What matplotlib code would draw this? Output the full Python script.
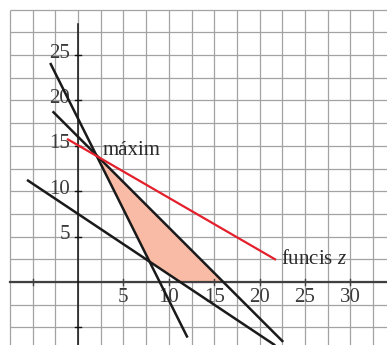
import numpy as np
import matplotlib.pyplot as plt

# constraint lines, drawn between these x limits
steep_x = [-3.0, 12.0]          # 2x + y = 18
diag_x = [-2.7, 22.5]           # x + y = 16
low_x = [-5.5, 21.6]            # 2x + 3y = 22.5

# objective function line (red) and optimum
z_x = [-1.1, 21.7]
z_y = [15.7, 2.5]
opt = (2, 14)

# feasible region vertices
region_x = [2, 16, 11.25, 7.875]
region_y = [14, 0, 0, 2.25]

tick_vals = [5, 10, 15, 20, 25, 30]
grid_x = np.arange(-7.5, 35, 2.5)
grid_y = np.arange(-5, 31, 2.5)

plt.rcParams['font.family'] = ['Liberation Serif', 'DejaVu Serif']
plt.rcParams['mathtext.fontset'] = 'custom'
plt.rcParams['mathtext.it'] = 'Liberation Serif:italic'
plt.rcParams['mathtext.rm'] = 'Liberation Serif'

fig = plt.figure(figsize=(3.87, 3.45), dpi=100)
ax = fig.add_axes([0, 0, 1, 1])
ax.set_xlim(-8.59, 34.03)
ax.set_ylim(-6.94, 31.06)
ax.axis('off')

# squared paper
ax.vlines(grid_x, -6.94, 30, color='#a3a3a3', lw=0.9, zorder=1)
ax.hlines(grid_y, -7.5, 34.03, color='#a3a3a3', lw=0.9, zorder=1)

# axes
ax.plot([-7.5, 34.03], [0, 0], color='#404040', lw=1.6, zorder=4)
ax.plot([0, 0], [-6.94, 28.4], color='#111111', lw=1.1, zorder=4)
for t in [-5] + tick_vals:
    ax.plot([t, t], [-0.35, 0.35], color='#404040', lw=1.0, zorder=4)
for t in [-5] + tick_vals[:-1]:
    ax.plot([-0.35, 0.35], [t, t], color='#111111', lw=1.0, zorder=4)

for t in tick_vals:
    ax.text(t, -1.7, str(t), ha='center', va='center', fontsize=15,
            color='#3a3a3a', zorder=3)
for t in tick_vals[:-1]:
    ax.text(-0.9, t + 0.2, str(t), ha='right', va='center', fontsize=15,
            color='#3a3a3a', zorder=3)

# feasible region
ax.fill(region_x, region_y, color='#f9bba5', lw=0, zorder=2)

# constraints
xs = np.array(steep_x)
ax.plot(xs, 18 - 2 * xs, color='#1a1a1a', lw=1.8, zorder=5)
xs = np.array(diag_x)
ax.plot(xs, 16 - xs, color='#1a1a1a', lw=1.8, zorder=5)
xs = np.array(low_x)
ax.plot(xs, (22.5 - 2 * xs) / 3, color='#1a1a1a', lw=1.8, zorder=5)

# objective function
ax.plot(z_x, z_y, color='#e3202b', lw=1.6, zorder=6)

ax.text(opt[0] + 0.75, opt[1] + 0.5, 'máxim', ha='left', va='center',
        fontsize=15, color='#2a2a2a', zorder=3)
ax.text(z_x[1] + 0.7, z_y[1] + 0.0, 'funcis $z$', ha='left', va='center',
        fontsize=15, color='#2a2a2a', zorder=3)

fig.savefig('out.png', dpi=100)
